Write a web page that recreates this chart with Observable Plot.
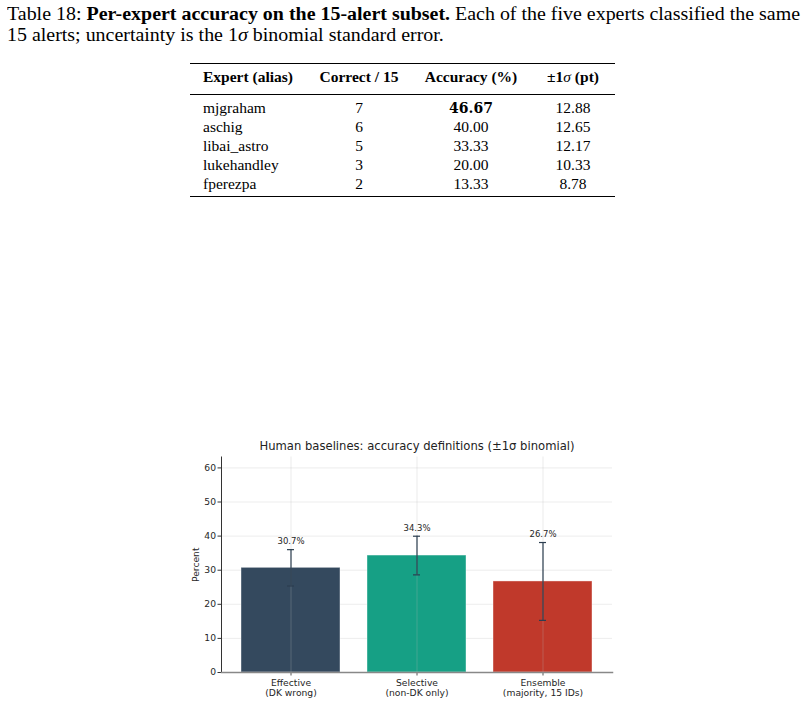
<!DOCTYPE html>
<html><head><meta charset="utf-8">
<script src="https://cdn.jsdelivr.net/npm/d3@7"></script>
<script src="https://cdn.jsdelivr.net/npm/@observablehq/plot@0.6"></script>
<style>
body{margin:0;width:805px;height:727px;overflow:hidden;background:#fff;position:relative;font-family:"Liberation Serif","Times New Roman",serif;color:#000}
.cap{position:absolute;left:7px;font-size:18px;white-space:nowrap;line-height:21px;transform-origin:0 0}
.rule{position:absolute;left:190px;width:425px;background:#000}
.cell{position:absolute;font-size:15.5px;line-height:18px;white-space:nowrap}
.ctr{transform:translateX(-50%)}
#ctitle{position:absolute;left:417px;top:439px;transform:translateX(-50%);font-family:"DejaVu Sans",sans-serif;font-size:11.6px;color:#222;white-space:nowrap}
#chart{position:absolute;left:0;top:450px}
</style></head><body>
<div id="cap1" class="cap" style="top:4.4px">Table 18: <b>Per-expert accuracy on the 15-alert subset.</b> Each of the five experts classified the same</div>
<div id="cap2" class="cap" style="top:25.4px">15 alerts; uncertainty is the 1<i>σ</i> binomial standard error.</div>
<div class="rule" style="top:62.5px;height:1.4px"></div>
<div class="rule" style="top:94px;height:0.8px"></div>
<div class="rule" style="top:196px;height:1.4px"></div>
<div id="table"></div>
<div id="ctitle">Human baselines: accuracy definitions (±1σ binomial)</div>
<div id="chart"></div>
<script>
// ---- table data ----
const tableHeaders = ["Expert (alias)", "Correct / 15", "Accuracy (%)", "±1σ (pt)"];
const experts = ["mjgraham", "aschig", "libai_astro", "lukehandley", "fperezpa"];
const correct = [7, 6, 5, 3, 2];
const accuracyPct = ["46.67", "40.00", "33.33", "20.00", "13.33"];
const sigmaPt = ["12.88", "12.65", "12.17", "10.33", "8.78"];

// ---- chart data ----
const categories = ["Effective", "Selective", "Ensemble"];
const tickLabels = ["Effective\n(DK wrong)", "Selective\n(non-DK only)", "Ensemble\n(majority, 15 IDs)"];
const accuracy = [30.7, 34.3, 26.7];
const sigma = [5.33, 5.67, 11.42];
const barColors = ["#34495e", "#16a085", "#c0392b"];
const yTicks = [0, 10, 20, 30, 40, 50, 60];

// caption width fit
const c1 = document.getElementById("cap1"), c2 = document.getElementById("cap2");
const s = 793 / c1.getBoundingClientRect().width;
c1.style.transform = `scaleX(${s})`;
c2.style.transform = `scaleX(${s})`;

// build table
const tbl = document.getElementById("table");
const colX = [203, 359, 471, 573];
function cell(text, x, cy, opts = {}) {
  const d = document.createElement("div");
  d.className = "cell" + (opts.center ? " ctr" : "");
  d.style.left = x + "px";
  d.style.top = (cy - 9) + "px";
  if (opts.bold) d.style.fontWeight = "bold";
  if (opts.font) d.style.fontFamily = opts.font;
  if (opts.size) d.style.fontSize = opts.size;
  d.innerHTML = text;
  tbl.appendChild(d);
}
cell(tableHeaders[0], colX[0], 77.3, {bold: true});
cell(tableHeaders[1], colX[1], 77.3, {bold: true, center: true});
cell("Accuracy (%)", colX[2], 77.3, {bold: true, center: true});
cell("±1<i style='font-weight:normal'>σ</i> (pt)", colX[3], 77.3, {bold: true, center: true});
experts.forEach((e, i) => {
  const cy = 107.7 + i * 19.05;
  cell(e, colX[0], cy);
  cell(String(correct[i]), colX[1], cy, {center: true});
  if (i === 0) cell(accuracyPct[i], colX[2], cy, {center: true, bold: true, font: "'DejaVu Serif',serif", size: "14px"});
  else cell(accuracyPct[i], colX[2], cy, {center: true});
  cell(sigmaPt[i], colX[3], cy, {center: true});
});

const rows = categories.map((c, i) => ({
  cat: c, v: accuracy[i], lo: accuracy[i] - sigma[i], hi: accuracy[i] + sigma[i], color: barColors[i]
}));

const chart = Plot.plot({
  width: 805, height: 277,
  marginLeft: 221, marginRight: 193, marginTop: 6.5, marginBottom: 55,
  style: {fontFamily: "DejaVu Sans, sans-serif", fontSize: "9.2px", color: "#262626", background: "transparent"},
  x: {type: "band", domain: categories, paddingInner: 0.213, paddingOuter: 0.146, axis: null},
  y: {domain: [0, 63.2], axis: null},
  marks: [
    Plot.ruleY(yTicks, {stroke: "#e8e8e8", strokeWidth: 0.8}),
    Plot.barY(rows, {x: "cat", y: "v", fill: "color", stroke: "#ffffff", strokeOpacity: 0.5, strokeWidth: 0.8}),
    Plot.ruleX(categories, {x: d => d, stroke: "#b8b8b8", strokeOpacity: 0.35, strokeWidth: 0.8}),
    Plot.ruleX(rows, {x: "cat", y1: "lo", y2: "hi", stroke: "#2c3e50", strokeWidth: 1.2}),
    Plot.tickY(rows, {x: "cat", y: "lo", stroke: "#2c3e50", strokeWidth: 1.2, insetLeft: 46, insetRight: 46}),
    Plot.tickY(rows, {x: "cat", y: "hi", stroke: "#2c3e50", strokeWidth: 1.2, insetLeft: 46, insetRight: 46}),
    Plot.text(rows, {x: "cat", y: "hi", dy: -8, text: d => d.v.toFixed(1) + "%", fontSize: 8.5, fill: "#262626"}),
    Plot.axisY({ticks: yTicks, tickSize: 3.5, tickPadding: 2, stroke: "#333", label: "Percent", labelAnchor: "center", labelArrow: "none", labelOffset: 29}),
    Plot.axisX({tickSize: 3.5, tickPadding: 3, stroke: "#555", label: null, lineHeight: 1.1, tickFormat: d => tickLabels[categories.indexOf(d)]}),
    Plot.frame({anchor: "left", stroke: "#333", strokeWidth: 1}),
    Plot.frame({anchor: "bottom", stroke: "#888", strokeWidth: 1.5})
  ]
});
document.getElementById("chart").appendChild(chart);
</script>
</body></html>
